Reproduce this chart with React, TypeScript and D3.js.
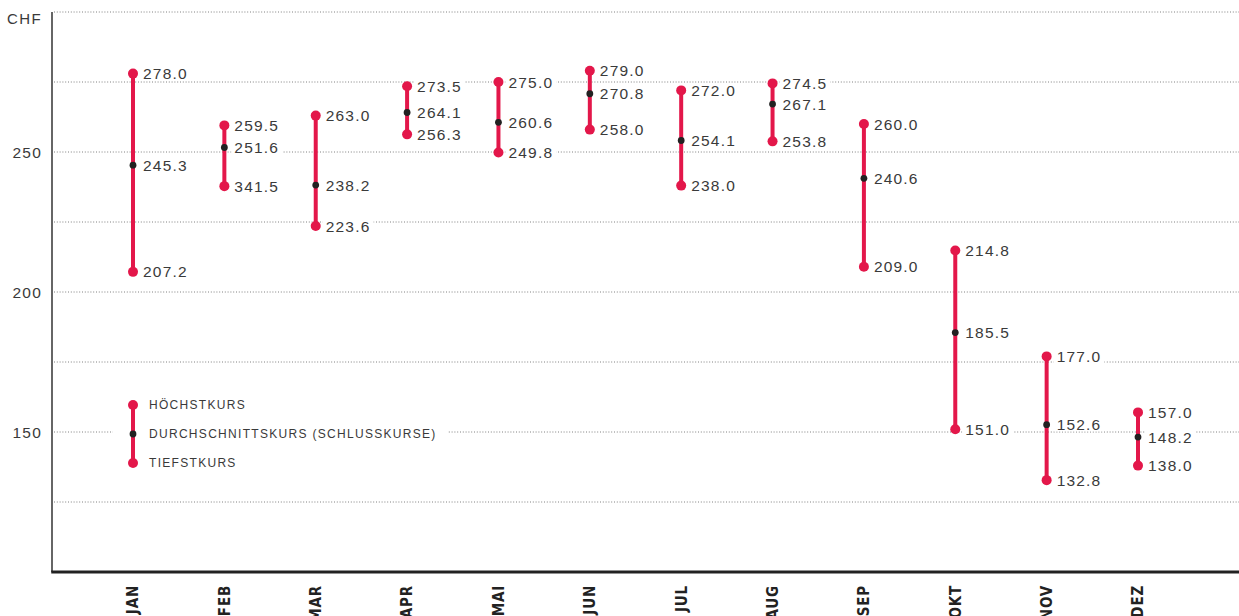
import React, { useEffect, useRef } from "react";
import * as d3 from "d3";

const months = ["JAN", "FEB", "MAR", "APR", "MAI", "JUN", "JUL", "AUG", "SEP", "OKT", "NOV", "DEZ"];
const highs = [278.0, 259.5, 263.0, 273.5, 275.0, 279.0, 272.0, 274.5, 260.0, 214.8, 177.0, 157.0];
const avgs = [245.3, 251.6, 238.2, 264.1, 260.6, 270.8, 254.1, 267.1, 240.6, 185.5, 152.6, 148.2];
const lows = [207.2, 237.8, 223.6, 256.3, 249.8, 258.0, 238.0, 253.8, 209.0, 151.0, 132.8, 138.0];
const lowLabels = ["207.2", "341.5", "223.6", "256.3", "249.8", "258.0", "238.0", "253.8", "209.0", "151.0", "132.8", "138.0"];
const gridTicks = [125, 150, 175, 200, 225, 250, 275, 300];
const labelTicks = [150, 200, 250];
const legendItems = ["HÖCHSTKURS", "DURCHSCHNITTSKURS (SCHLUSSKURSE)", "TIEFSTKURS"];

const W = 1239;
const H = 616;
const RED = "#e3174a";
const DARK = "#222";
const TEXT = "#3a3a3a";
const FONT = "'Liberation Sans', Arial, sans-serif";

export default function App() {
  const ref = useRef<SVGSVGElement | null>(null);

  useEffect(() => {
    const svg = d3.select(ref.current);
    svg.selectAll("*").remove();

    const y = d3.scaleLinear().domain([100, 300]).range([572, 12]);
    const x = d3.scalePoint<string>().domain(months).range([133, 1138]);
    const axisX = 52;

    // gridlines
    svg
      .append("g")
      .selectAll("line")
      .data(gridTicks)
      .join("line")
      .attr("x1", axisX + 2)
      .attr("x2", W)
      .attr("y1", (d) => y(d))
      .attr("y2", (d) => y(d))
      .attr("stroke", "#808080")
      .attr("stroke-width", 1)
      .attr("stroke-dasharray", "1,1.8");

    // y labels
    svg
      .append("g")
      .selectAll("text")
      .data(labelTicks)
      .join("text")
      .attr("x", 42)
      .attr("y", (d) => y(d))
      .attr("dy", "0.36em")
      .attr("text-anchor", "end")
      .attr("font-family", FONT)
      .attr("font-size", 15.5)
      .attr("letter-spacing", 1.2)
      .attr("fill", TEXT)
      .text((d) => String(d));

    svg
      .append("text")
      .attr("x", 42)
      .attr("y", 24)
      .attr("text-anchor", "end")
      .attr("font-family", FONT)
      .attr("font-size", 15)
      .attr("letter-spacing", 1.4)
      .attr("fill", TEXT)
      .text("CHF");

    // axes
    svg
      .append("line")
      .attr("x1", axisX)
      .attr("x2", axisX)
      .attr("y1", y(300))
      .attr("y2", y(100))
      .attr("stroke", "#333")
      .attr("stroke-width", 1.5);
    svg
      .append("line")
      .attr("x1", axisX - 0.75)
      .attr("x2", W)
      .attr("y1", y(100))
      .attr("y2", y(100))
      .attr("stroke", DARK)
      .attr("stroke-width", 2.8);

    // month labels
    svg
      .append("g")
      .selectAll("text")
      .data(months)
      .join("text")
      .attr("transform", (d) => `translate(${x(d)},585) rotate(-90)`)
      .attr("dy", "0.36em")
      .attr("text-anchor", "end")
      .attr("font-family", "'Liberation Sans Narrow', 'DejaVu Sans Condensed', Arial, sans-serif")
      .attr("font-weight", "bold")
      .attr("font-size", 15)
      .attr("letter-spacing", 0.8)
      .attr("fill", DARK)
      .text((d) => d);

    // legend background
    const lg = svg.append("g");
    lg.append("rect").attr("x", 113).attr("y", 392).attr("width", 334).attr("height", 84).attr("fill", "#fff");

    const data = months.map((m, i) => ({ m, hi: highs[i], av: avgs[i], lo: lows[i], loLabel: lowLabels[i] }));

    const marks = svg.append("g");
    data.forEach((d) => {
      const cx = x(d.m) as number;
      marks
        .append("line")
        .attr("x1", cx)
        .attr("x2", cx)
        .attr("y1", y(d.hi))
        .attr("y2", y(d.lo))
        .attr("stroke", RED)
        .attr("stroke-width", 4);
      marks.append("circle").attr("cx", cx).attr("cy", y(d.hi)).attr("r", 5).attr("fill", RED);
      marks.append("circle").attr("cx", cx).attr("cy", y(d.lo)).attr("r", 5).attr("fill", RED);
      marks.append("circle").attr("cx", cx).attr("cy", y(d.av)).attr("r", 3.4).attr("fill", DARK);

      const labels = [
        { v: d.hi, t: d.hi.toFixed(1) },
        { v: d.av, t: d.av.toFixed(1) },
        { v: d.lo, t: d.loLabel },
      ];
      labels.forEach((l) => {
        const g = marks.append("g");
        const bg = g.append("rect").attr("fill", "#fff");
        const t = g
          .append("text")
          .attr("x", cx + 10)
          .attr("y", y(l.v))
          .attr("dy", "0.36em")
          .attr("font-family", FONT)
          .attr("font-size", 15.5)
          .attr("letter-spacing", 1.2)
          .attr("fill", TEXT)
          .text(l.t);
        const bb = (t.node() as SVGTextElement).getBBox();
        bg.attr("x", bb.x - 3).attr("y", bb.y + 2).attr("width", bb.width + 6).attr("height", bb.height - 4);
      });
    });

    // legend
    const lx = x("JAN") as number;
    const ly = [405, 434, 463];
    lg.append("line").attr("x1", lx).attr("x2", lx).attr("y1", ly[0]).attr("y2", ly[2]).attr("stroke", RED).attr("stroke-width", 4);
    lg.append("circle").attr("cx", lx).attr("cy", ly[0]).attr("r", 5).attr("fill", RED);
    lg.append("circle").attr("cx", lx).attr("cy", ly[2]).attr("r", 5).attr("fill", RED);
    lg.append("circle").attr("cx", lx).attr("cy", ly[1]).attr("r", 3.4).attr("fill", DARK);
    lg.selectAll("text.leg")
      .data(legendItems)
      .join("text")
      .attr("class", "leg")
      .attr("x", lx + 16)
      .attr("y", (_, i) => ly[i])
      .attr("dy", "0.36em")
      .attr("font-family", FONT)
      .attr("font-size", 12)
      .attr("letter-spacing", 1.3)
      .attr("fill", TEXT)
      .text((d) => d);
  }, []);

  return (
    <svg
      ref={ref}
      width={W}
      height={H}
      style={{ position: "absolute", left: 0, top: 0, background: "#fff" }}
    />
  );
}
